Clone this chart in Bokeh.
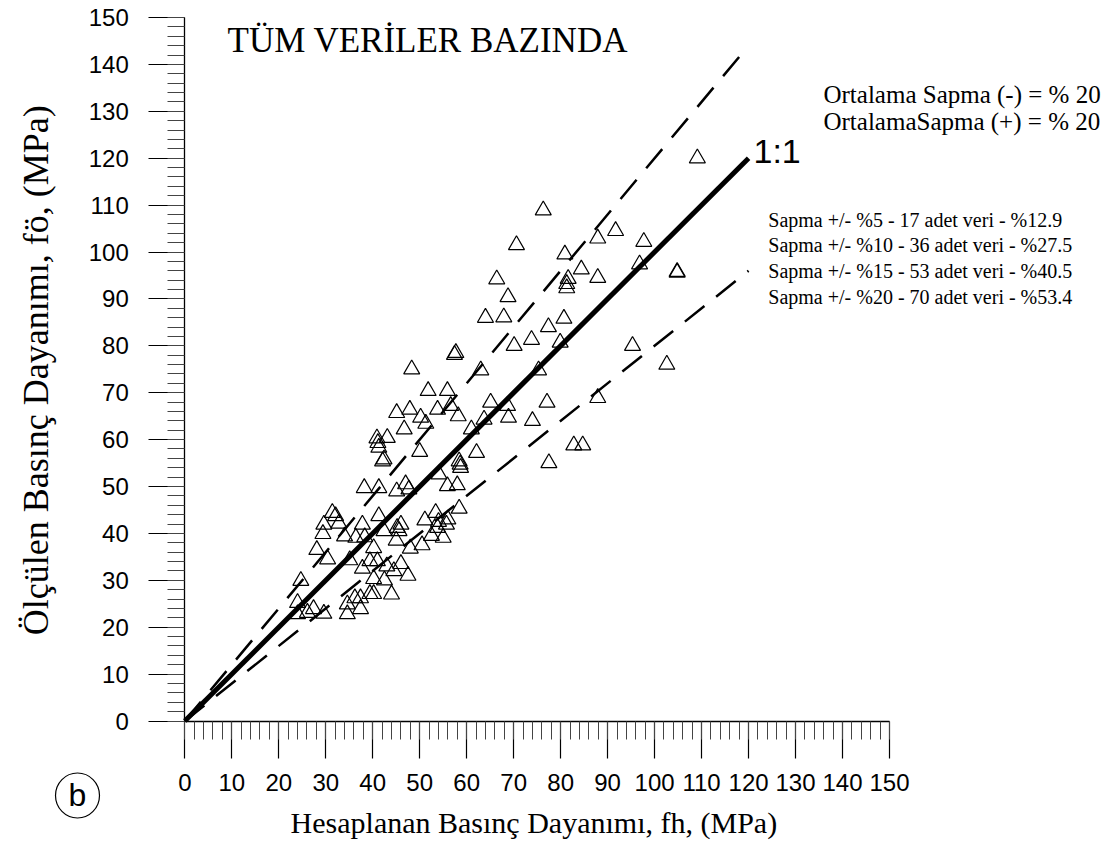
from bokeh.plotting import figure
from bokeh.models import Range1d, FixedTicker, Label
from bokeh.embed import file_html
from bokeh.resources import INLINE

# Computed strength fh (MPa) and measured strength fo (MPa)
fh = [109.1, 76.3, 70.6, 80.9, 87.9, 91.7, 97.7, 96.8, 104.8, 104.8,
      84.4, 81.6, 81.3, 81.3, 87.9, 68.8, 67.9, 66.4, 64.0, 80.7,
      77.4, 73.8, 70.1, 79.9, 95.3, 102.6,
      57.7, 57.4, 48.3, 63.0, 75.3, 51.8, 55.9, 45.1, 47.9, 53.8,
      56.6, 65.1, 68.7, 77.1, 50.2, 51.3, 58.2, 68.9, 74.0, 63.7,
      61.0, 46.7, 40.9, 41.1, 41.3, 43.1, 42.1, 42.4, 50.0, 62.1,
      58.4, 58.6, 58.7, 38.2, 41.3, 45.1, 47.0, 47.7, 54.1, 55.9,
      58.0, 58.4, 53.4, 51.1, 55.7, 53.8, 55.0, 41.3, 37.8, 45.2,
      46.0, 45.6, 42.4, 31.4, 32.1, 32.8, 29.6,
      29.4, 34.0, 36.4, 38.3, 40.2, 28.1, 30.4, 35.1, 39.4, 41.0,
      37.8, 40.2, 24.7, 40.2, 39.4, 24.0, 27.4, 26.1, 24.0, 29.6,
      34.6, 36.2, 37.4, 34.6, 37.4,
      82.8, 84.7, 77.5, 87.9,
      43.0, 44.5, 46.0, 47.5, 45.0, 48.0, 50.5, 52.5, 54.0, 56.0,
      44.0, 42.5]
fo = [120.0, 108.9, 101.5, 99.5, 102.9, 104.5, 102.2, 97.4, 95.6, 95.8,
      96.3, 94.3, 93.2, 92.3, 94.5, 90.4, 86.1, 94.2, 86.0, 85.8,
      84.0, 81.3, 80.0, 80.7, 80.0, 76.0,
      78.5, 78.1, 75.0, 74.8, 74.8, 70.4, 70.4, 65.7, 66.4, 66.4,
      67.2, 67.9, 67.2, 67.9, 64.7, 63.4, 65.0, 64.7, 64.0, 64.3,
      62.2, 62.2, 60.3, 59.3, 58.3, 60.4, 55.4, 55.8, 57.4, 57.2,
      55.4, 54.7, 54.0, 49.7, 49.7, 49.0, 50.5, 49.4, 52.6, 50.1,
      50.3, 45.3, 44.4, 42.8, 41.9, 41.2, 39.1, 43.7, 41.9, 41.2,
      41.9, 40.5, 40.5, 44.4, 43.7, 42.1, 41.9,
      39.9, 39.4, 39.1, 39.2, 36.9, 36.5, 34.5, 34.3, 34.1, 34.1,
      32.5, 30.3, 29.9, 27.1, 27.1, 25.2, 23.9, 23.1, 22.8, 22.9,
      24.9, 26.2, 26.2, 22.8, 23.9,
      58.8, 58.8, 55.0, 68.9,
      33.0, 32.0, 33.5, 31.0, 38.5, 36.8, 37.5, 39.5, 42.5, 43.0,
      27.0, 30.0]

axis_ticks = list(range(0, 151, 10))
minor_ticks = list(range(0, 151, 2))
axis_span = (0, 150)

# 1:1 line and the +/-20 % band
ref_x = [0, 120]
band_upper = 1.2
band_lower = 0.8

title_text = "TÜM VERİLER BAZINDA"
x_title = "Hesaplanan Basınç Dayanımı, fh, (MPa)"
y_title = "Ölçülen Basınç Dayanımı, fö, (MPa)"
mean_lines = ["Ortalama Sapma (-) = % 20", "OrtalamaSapma (+) = % 20"]
stat_lines = ["Sapma +/- %5 - 17 adet veri - %12.9",
              "Sapma +/- %10 - 36 adet veri - %27.5",
              "Sapma +/- %15 - 53 adet veri - %40.5",
              "Sapma +/- %20 - 70 adet veri - %53.4"]

# The frame fills the whole canvas; the axes are pinned at 0 so that the
# notes around the chart can sit in plain data space.
W, H = 1117, 843
ox, oy = 184.3, 720.5          # pixel position of (0, 0)
sx, sy = 4.698, 4.69           # pixels per MPa
p = figure(width=W, height=H, title=None,
           x_range=Range1d(-ox / sx, (W - ox) / sx),
           y_range=Range1d(-(H - oy) / sy, oy / sy),
           output_backend="svg", toolbar_location=None,
           min_border=0, min_border_left=0, min_border_right=0,
           min_border_top=0, min_border_bottom=0)
p.outline_line_color = None
p.grid.visible = False
p.background_fill_color = "white"
p.border_fill_color = "white"

for ax in (p.xaxis[0], p.yaxis[0]):
    ax.fixed_location = 0
    ax.bounds = axis_span
    ax.ticker = FixedTicker(ticks=axis_ticks, minor_ticks=minor_ticks)
    ax.major_tick_in = 0
    ax.minor_tick_in = 0
    ax.axis_line_color = "black"
    ax.axis_line_width = 1.3
    ax.major_tick_line_color = "black"
    ax.major_tick_line_width = 1.2
    ax.minor_tick_line_color = "#444444"
    ax.minor_tick_line_width = 1
    ax.major_label_text_font = "Liberation Sans"
    ax.major_label_text_font_size = "24px"
    ax.major_label_text_color = "black"

p.xaxis.major_tick_out = 37
p.xaxis.minor_tick_out = 18
p.xaxis.major_label_standoff = 16
p.yaxis.major_tick_out = 36
p.yaxis.minor_tick_out = 17
p.yaxis.major_label_standoff = 20

# reference lines
p.line(ref_x, [band_upper * v for v in ref_x], line_color="black", line_width=2.5, line_dash="25 15")
p.line(ref_x, [band_lower * v for v in ref_x], line_color="black", line_width=2.5, line_dash="25 15")
p.line(ref_x, ref_x, line_color="black", line_width=5)

p.scatter(fh, fo, marker="triangle", size=16, fill_color=None,
          line_color="black", line_width=1.2)

serif = "Liberation Serif"
p.add_layout(Label(x=9.1, y=145.1, text=title_text, text_font=serif,
                   text_font_size="35px", text_baseline="middle", text_color="black"))
p.add_layout(Label(x=121.05, y=121.6, text="1:1", text_font="Liberation Sans",
                   text_font_size="34px", text_baseline="middle", text_color="black"))
for i, s in enumerate(mean_lines):
    p.add_layout(Label(x=135.95, y=133.6 - 5.8 * i, text=s, text_font=serif,
                       text_font_size="25px", text_baseline="middle", text_color="black"))
for i, s in enumerate(stat_lines):
    p.add_layout(Label(x=124.2, y=106.9 - 5.5 * i, text=s, text_font=serif,
                       text_font_size="20px", text_baseline="middle", text_color="black"))

p.add_layout(Label(x=74.3, y=-21.6, text=x_title, text_font=serif, text_font_size="30px",
                   text_align="center", text_baseline="middle", text_color="black"))
p.add_layout(Label(x=-31.6, y=74.8, text=y_title, text_font=serif, text_font_size="36px",
                   text_align="center", text_baseline="middle", angle=1.5708, text_color="black"))

# panel letter in a ring
p.ellipse(x=[-22.84], y=[-15.88], width=44, height=45, width_units="screen",
          height_units="screen", fill_color=None, line_color="black", line_width=1.2)
p.add_layout(Label(x=-22.84, y=-15.88, text="b", text_font="Liberation Sans", text_font_size="32px",
                   text_align="center", text_baseline="middle", text_color="black"))

open("out.html", "w").write(file_html(p, INLINE))
